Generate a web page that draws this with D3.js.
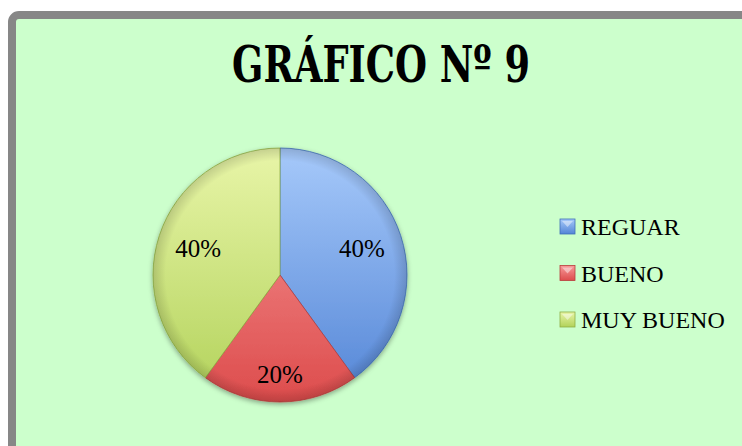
<!doctype html>
<html lang="es">
<head>
<meta charset="utf-8">
<title>Gráfico Nº 9</title>
<style>
  html, body { margin: 0; padding: 0; background: #fff; }
  svg { display: block; }
</style>
<script src="https://d3js.org/d3.v7.min.js"></script>
</head>
<body>
<div id="chart"></div>
<script>
// data
var categories = ["REGUAR", "BUENO", "MUY BUENO"];
var values = [40, 20, 40];
var pctLabels = ["40%", "20%", "40%"];

var width = 742, height = 446;
var cx = 280, cy = 275, radius = 127;

// light top / dark bottom for each slice
var topColors = ["#a6c9fa", "#f79a9a", "#e8f5a8"];
var bottomColors = ["#5385d6", "#dd4c4c", "#b2d25a"];
var edgeColors = ["#3f6fb8", "#b83c3c", "#8fae44"];

var svg = d3.select("#chart").append("svg")
    .attr("width", width)
    .attr("height", height);

var defs = svg.append("defs");

categories.forEach(function(c, i) {
  // slices are drawn around (0,0), so the gradient runs from -r to r
  var g = defs.append("linearGradient")
      .attr("id", "grad" + i)
      .attr("gradientUnits", "userSpaceOnUse")
      .attr("x1", 0).attr("y1", -radius)
      .attr("x2", 0).attr("y2", radius);
  g.append("stop").attr("offset", "0%").attr("stop-color", topColors[i]);
  g.append("stop").attr("offset", "100%").attr("stop-color", bottomColors[i]);

  var lg = defs.append("linearGradient")
      .attr("id", "lgrad" + i)
      .attr("x1", 0).attr("y1", 0).attr("x2", 0).attr("y2", 1);
  lg.append("stop").attr("offset", "0%").attr("stop-color", topColors[i]);
  lg.append("stop").attr("offset", "100%").attr("stop-color", bottomColors[i]);
});

// soft shadow under the pie
var f = defs.append("filter").attr("id", "shadow")
    .attr("x", "-20%").attr("y", "-20%").attr("width", "140%").attr("height", "140%");
f.append("feDropShadow")
    .attr("dx", 0).attr("dy", 2).attr("stdDeviation", 2.5)
    .attr("flood-color", "#000").attr("flood-opacity", 0.35);

// inner bevel edge
var bev = defs.append("radialGradient").attr("id", "bevel")
    .attr("gradientUnits", "userSpaceOnUse")
    .attr("cx", 0).attr("cy", 0).attr("r", radius);
bev.append("stop").attr("offset", "90%").attr("stop-color", "#000").attr("stop-opacity", 0);
bev.append("stop").attr("offset", "100%").attr("stop-color", "#000").attr("stop-opacity", 0.15);

// frame
svg.append("rect")
    .attr("x", 12).attr("y", 15)
    .attr("width", 820).attr("height", 500)
    .attr("rx", 7)
    .attr("fill", "#ccffcc")
    .attr("stroke", "#878787")
    .attr("stroke-width", 8);

// title
svg.append("text")
    .attr("x", 381).attr("y", 82)
    .attr("text-anchor", "middle")
    .attr("font-family", "'DejaVu Serif Condensed', 'DejaVu Serif', serif")
    .attr("font-weight", "bold")
    .attr("font-size", 50)
    .attr("textLength", 298)
    .attr("lengthAdjust", "spacingAndGlyphs")
    .attr("fill", "#000")
    .text("GRÁFICO Nº 9");

var pie = d3.pie().sort(null).value(function(d) { return d; });
var arcs = pie(values);
var arc = d3.arc().innerRadius(0).outerRadius(radius);

var pg = svg.append("g")
    .attr("transform", "translate(" + cx + "," + cy + ")");

pg.append("g")
    .attr("filter", "url(#shadow)")
  .selectAll("path")
  .data(arcs)
  .enter()
  .append("path")
    .attr("d", arc)
    .attr("fill", function(d, i) { return "url(#grad" + i + ")"; })
    .attr("stroke", function(d, i) { return edgeColors[i]; })
    .attr("stroke-width", 0.8);

// bevel overlay
pg.append("circle")
    .attr("r", radius)
    .attr("fill", "url(#bevel)")
    .attr("pointer-events", "none");

// percentage labels, small slices are pushed out like Excel does
var labelR = function(d) { return (d.endAngle - d.startAngle) < 1.5 ? 99 : 86; };
pg.selectAll("text.pct")
  .data(arcs)
  .enter()
  .append("text")
    .attr("class", "pct")
    .attr("transform", function(d) {
      var a = (d.startAngle + d.endAngle) / 2;
      var r = labelR(d);
      return "translate(" + (Math.sin(a) * r) + "," + (-Math.cos(a) * r) + ")";
    })
    .attr("text-anchor", "middle")
    .attr("dy", "0.35em")
    .attr("font-family", "'Liberation Serif', serif")
    .attr("font-size", 25)
    .attr("fill", "#000")
    .text(function(d, i) { return pctLabels[i]; });

// legend
var ly = d3.scalePoint().domain(categories).range([227, 320]);
var leg = svg.append("g").selectAll("g")
  .data(categories)
  .enter()
  .append("g")
    .attr("transform", function(d) { return "translate(560," + ly(d) + ")"; });

leg.append("rect")
    .attr("x", 0).attr("y", -8)
    .attr("width", 15).attr("height", 15)
    .attr("fill", function(d, i) { return "url(#lgrad" + i + ")"; })
    .attr("stroke", function(d, i) { return edgeColors[i]; })
    .attr("stroke-width", 0.8);

leg.append("path")
    .attr("d", "M2,-6 L13,-6 L7.5,0 Z")
    .attr("fill", "#fff")
    .attr("fill-opacity", 0.45);

leg.append("text")
    .attr("x", 21).attr("y", 0)
    .attr("dy", "0.35em")
    .attr("font-family", "'Liberation Serif', serif")
    .attr("font-size", 24)
    .attr("fill", "#000")
    .text(function(d) { return d; });
</script>
</body>
</html>
